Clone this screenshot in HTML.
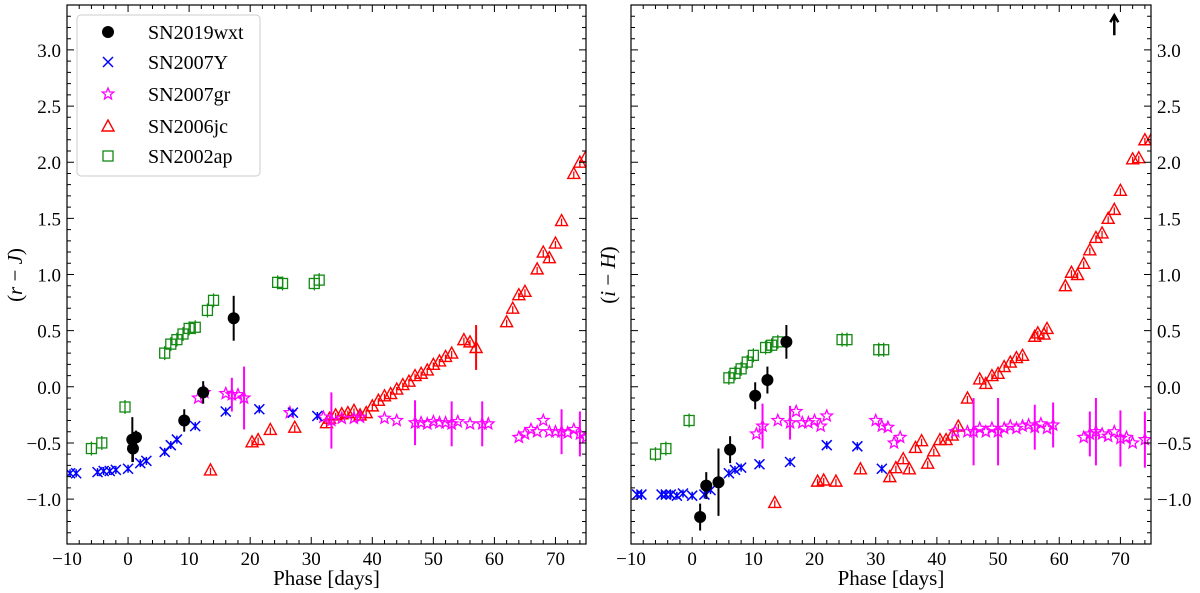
<!DOCTYPE html>
<html><head><meta charset="utf-8"><style>
html,body{margin:0;padding:0;background:#fff;}
svg{display:block;}
svg text{font-family:"Liberation Serif","Times New Roman",serif;}
</style></head><body>
<svg id="c" width="1200" height="593" viewBox="0 0 1200 593" xmlns="http://www.w3.org/2000/svg" font-family="Liberation Serif, serif"></svg>
<script>
// Left panel (r-J)
const L_wxt=[[0.7,-0.47,0.2],[0.8,-0.55,0.12],[1.3,-0.45,0.06],[9.2,-0.3,0.1],[12.3,-0.05,0.1],[17.3,0.61,0.2]];
const L_07Y=[[-9.5,-0.77],[-8.5,-0.77],[-5,-0.76],[-4,-0.75],[-3,-0.75],[-2,-0.74],[0,-0.73],[2,-0.68],[3,-0.66],[6,-0.58],[7,-0.52],[8,-0.47],[11,-0.35],[16,-0.22],[21.5,-0.2],[27,-0.23],[31,-0.26]];
const L_07gr=[[11.5,-0.1,0],[12.5,-0.05,0],[16,-0.06,0],[17,-0.07,0.15],[18,-0.07,0],[19,-0.1,0.28],[26.5,-0.23,0],[32,-0.27,0],[33.3,-0.3,0.25],[35,-0.28,0],[37,-0.28,0],[38,-0.27,0],[42,-0.28,0],[44,-0.3,0],[47,-0.32,0.2],[48,-0.32,0],[49,-0.33,0],[50,-0.31,0],[51,-0.32,0],[52,-0.32,0],[53,-0.33,0.2],[54,-0.31,0],[56,-0.33,0],[58,-0.33,0.2],[59,-0.33,0],[64,-0.45,0],[65,-0.42,0],[66,-0.38,0],[67,-0.4,0],[68,-0.3,0],[69,-0.4,0],[70,-0.4,0],[71,-0.4,0.2],[72,-0.41,0],[73,-0.38,0],[74,-0.42,0.2],[75,-0.45,0]];
const L_06jc=[[13.5,-0.74,0],[20.3,-0.49,0],[21.3,-0.47,0],[23.3,-0.38,0],[27.3,-0.36,0],[32.5,-0.32,0],[33,-0.28,0],[34,-0.25,0],[35,-0.24,0],[36,-0.23,0],[37,-0.21,0],[38,-0.25,0],[39,-0.23,0],[40,-0.17,0],[41,-0.12,0],[42,-0.08,0],[43,-0.06,0],[44,-0.02,0],[45,0.02,0],[46,0.05,0],[47,0.1,0],[48,0.12,0],[49,0.15,0],[50,0.2,0],[51,0.23,0],[52,0.27,0],[53,0.3,0],[55,0.42,0],[56,0.4,0],[57,0.35,0.2],[62,0.58,0],[63,0.7,0],[64,0.82,0],[65,0.85,0],[67,1.05,0],[68,1.2,0],[69,1.15,0],[70,1.28,0],[71,1.48,0],[73,1.9,0],[74,2.0,0],[75,2.05,0]];
const L_02ap=[[-6,-0.55],[-4.3,-0.5],[-0.5,-0.18],[6,0.3],[7,0.38],[8,0.42],[9,0.47],[10,0.52],[11,0.53],[13,0.68],[14,0.77],[24.5,0.93],[25.3,0.92],[30.5,0.92],[31.3,0.95]];
// Right panel (i-H)
const R_wxt=[[1.3,-1.16,0.12],[2.3,-0.88,0.12],[4.3,-0.85,0.3],[6.2,-0.56,0.12],[10.3,-0.08,0.12],[12.3,0.06,0.12],[15.4,0.4,0.15]];
const R_07Y=[[-9,-0.96],[-8.3,-0.96],[-5,-0.96],[-4.3,-0.96],[-3.5,-0.96],[-2.5,-0.97],[-1.5,-0.95],[0,-0.97],[2,-0.96],[3,-0.92],[6,-0.77],[7,-0.74],[8,-0.72],[11,-0.69],[16,-0.67],[22,-0.52],[27,-0.53],[31,-0.73]];
const R_07gr=[[10.5,-0.42,0],[11.5,-0.35,0.2],[14,-0.3,0],[16,-0.32,0.15],[17,-0.22,0],[18,-0.32,0],[19,-0.32,0],[20,-0.3,0],[21,-0.35,0],[22,-0.26,0],[30,-0.3,0],[31,-0.35,0],[32,-0.36,0],[33,-0.5,0],[34,-0.45,0],[43,-0.4,0],[45,-0.4,0],[46,-0.4,0.3],[47,-0.37,0],[48,-0.4,0],[49,-0.37,0],[50,-0.4,0.3],[51,-0.37,0],[52,-0.35,0],[53,-0.37,0],[54,-0.35,0],[55,-0.34,0],[56,-0.36,0.2],[57,-0.33,0],[58,-0.37,0],[59,-0.34,0.2],[64,-0.45,0],[65,-0.42,0.2],[66,-0.4,0.3],[67,-0.42,0],[68,-0.44,0],[69,-0.4,0],[70,-0.46,0.25],[71,-0.45,0],[72,-0.5,0],[74,-0.47,0.25]];
const R_06jc=[[13.5,-1.03,0],[20.5,-0.84,0],[21.5,-0.83,0],[23.5,-0.84,0],[27.5,-0.73,0],[32.3,-0.8,0],[33.3,-0.72,0],[34.5,-0.64,0],[35.5,-0.73,0],[36.5,-0.54,0],[37.5,-0.48,0],[38.5,-0.68,0],[39.5,-0.57,0],[40.5,-0.47,0],[41.5,-0.47,0],[42.5,-0.43,0],[43.5,-0.35,0],[45,-0.1,0],[47,0.07,0],[48,0.03,0],[49,0.1,0],[50,0.12,0],[51,0.18,0],[52,0.22,0],[53,0.26,0],[54,0.28,0],[56,0.45,0],[56.5,0.48,0],[57.5,0.47,0],[58,0.52,0],[61,0.9,0],[62,1.02,0],[63,1.0,0],[64,1.1,0],[65,1.22,0],[66,1.33,0],[67,1.37,0],[68,1.5,0],[69,1.58,0],[70,1.75,0],[72,2.03,0],[73,2.04,0],[74,2.2,0],[75,2.2,0]];
const R_02ap=[[-6,-0.6],[-4.3,-0.55],[-0.5,-0.3],[6,0.08],[7,0.12],[8,0.16],[9,0.22],[10,0.28],[12,0.35],[13,0.37],[14,0.4],[24.5,0.42],[25.3,0.42],[30.5,0.33],[31.3,0.33]];
const R_arrow=[69,3.22];
const xTicks=[-10,0,10,20,30,40,50,60,70];
const yTicks=[-1.0,-0.5,0.0,0.5,1.0,1.5,2.0,2.5,3.0];
const xDom=[-10,75], yDom=[-1.4,3.4];

const svg=document.getElementById('c');
const NS='http://www.w3.org/2000/svg';
const FF='Liberation Serif, Times New Roman, serif';
function mk(tag,attrs,parent){const e=document.createElementNS(NS,tag);for(const k in attrs)e.setAttribute(k,attrs[k]);if(tag==='text')e.setAttribute('font-family',FF);(parent||svg).appendChild(e);return e;}
function fmt(v){return (v<0?'\u2212':'')+Math.abs(v).toFixed(1);}

function panel(x0,x1,side,name,ylab,sets,arrow){
  const y0=5,y1=544;
  const sx=d=>x0+(d-xDom[0])/(xDom[1]-xDom[0])*(x1-x0);
  const sy=v=>y1-(v-yDom[0])/(yDom[1]-yDom[0])*(y1-y0);
  const g=mk('g',{});
  
  
  const clip=mk('clipPath',{id:'cl'+name},g);
  mk('rect',{x:x0,y:y0,width:x1-x0,height:y1-y0},clip);
  const pts=mk('g',{'clip-path':'url(#cl'+name+')'},g);
  function eb(x,y,e,col){ if(e>0) mk('line',{x1:x,x2:x,y1:sy(y-e),y2:sy(y+e),stroke:col,'stroke-width':2},pts); }
  sets.ap.forEach(p=>{const x=sx(p[0]),y=sy(p[1]);
    mk('line',{x1:x,x2:x,y1:y-7,y2:y+7,stroke:'#138a13','stroke-width':1.3},pts);
    const r=mk('rect',{x:x-5,y:y-5,width:10,height:10,fill:'none',stroke:'#138a13','stroke-width':1.3},pts);
    });
  sets.jc.forEach(p=>{const x=sx(p[0]),y=sy(p[1]);eb(x,p[1],p[2],'red');
    mk('line',{x1:x,x2:x,y1:y-2,y2:y+5,stroke:'red','stroke-width':1.3},pts);
    const t=mk('polygon',{points:`${x},${y-6} ${x-6},${y+5} ${x+6},${y+5}`,fill:'none',stroke:'red','stroke-width':1.4},pts);
    });
  sets.gr.forEach(p=>{const x=sx(p[0]),y=sy(p[1]);eb(x,p[1],p[2],'magenta');
    let s='';for(let i=0;i<10;i++){const a=-Math.PI/2+i*Math.PI/5,r=i%2?2.6:6;s+=(x+r*Math.cos(a)).toFixed(1)+','+(y+r*Math.sin(a)).toFixed(1)+' ';}
    const st=mk('polygon',{points:s,fill:'none',stroke:'magenta','stroke-width':1.3},pts);
    });
  sets.y.forEach(p=>{const x=sx(p[0]),y=sy(p[1]);
    const c=mk('path',{d:`M${x-5},${y-5}L${x+5},${y+5}M${x-5},${y+5}L${x+5},${y-5}M${x},${y-4}L${x},${y+4}`,stroke:'blue','stroke-width':1.5,fill:'none'},pts);
    });
  sets.wxt.forEach(p=>{const x=sx(p[0]),y=sy(p[1]);eb(x,p[1],p[2],'#000');
    const c=mk('circle',{cx:x,cy:y,r:6,fill:'#000'},pts);
    });
  if(arrow){const x=sx(arrow[0]),y=sy(arrow[1]);
    const a=mk('path',{d:`M${x},${y+10}L${x},${y-9}M${x-4},${y-3}L${x},${y-10}L${x+4},${y-3}`,stroke:'#000','stroke-width':2.5,fill:'none'},g);
    }
  const fr=mk('rect',{x:x0,y:y0,width:x1-x0,height:y1-y0,fill:'none',stroke:'#000','stroke-width':1.2},g);
  
  let d='';
  for(let v=-10;v<=75;v+=2){const x=sx(v),L=(v%10===0)?7:4;d+=`M${x},${y1}v${-L}M${x},${y0}v${L}`;}
  for(let k=-14;k<=34;k++){const v=k/10,y=sy(v),L=(k%5===0)?7:4;d+=`M${x0},${y}h${L}M${x1},${y}h${-L}`;}
  mk('path',{d:d,stroke:'#000','stroke-width':1},g);
  xTicks.forEach(v=>{const t=mk('text',{x:sx(v),y:y1+21,'font-size':19,'text-anchor':'middle'},g);t.textContent=fmt(v).replace('.0','');
    });
  yTicks.forEach(v=>{const t=mk('text',{x:side==='l'?x0-6:x1+6,y:sy(v)+7,'font-size':19,'text-anchor':side==='l'?'end':'start'},g);t.textContent=fmt(v);
    });
  const xl=mk('text',{x:(x0+x1)/2,y:585,'font-size':21,'text-anchor':'middle'},g);xl.textContent='Phase [days]';
  
  const lx=side==='l'?22:615,ly=275;
  const yl=mk('text',{x:lx,y:ly,'font-size':21,'text-anchor':'middle',transform:`rotate(-90 ${lx} ${ly})`},g);
  yl.innerHTML=ylab;
  
}
panel(67,586,'l','left-panel','(<tspan font-style="italic">r</tspan> \u2212 <tspan font-style="italic">J</tspan>)',{wxt:L_wxt,y:L_07Y,gr:L_07gr,jc:L_06jc,ap:L_02ap},null);
panel(631,1151,'r','right-panel','(<tspan font-style="italic">i</tspan> \u2212 <tspan font-style="italic">H</tspan>)',{wxt:R_wxt,y:R_07Y,gr:R_07gr,jc:R_06jc,ap:R_02ap},R_arrow);

const lg=mk('g',{});

mk('rect',{x:77,y:15,width:183,height:161,rx:4,fill:'#fff',stroke:'#ccc','stroke-width':1},lg);
const names=['SN2019wxt','SN2007Y','SN2007gr','SN2006jc','SN2002ap'];
const rows=[32,62,94,126,156];
names.forEach((n,i)=>{const y=rows[i],x=108;
  const e=mk('g',{},lg);
  if(i===0)mk('circle',{cx:x,cy:y,r:6,fill:'#000'},e);
  if(i===1)mk('path',{d:`M${x-5},${y-5}L${x+5},${y+5}M${x-5},${y+5}L${x+5},${y-5}`,stroke:'blue','stroke-width':1.5},e);
  if(i===2){let s='';for(let k=0;k<10;k++){const a=-Math.PI/2+k*Math.PI/5,r=k%2?2.6:6;s+=(x+r*Math.cos(a)).toFixed(1)+','+(y+r*Math.sin(a)).toFixed(1)+' ';}mk('polygon',{points:s,fill:'none',stroke:'magenta','stroke-width':1.3},e);}
  if(i===3)mk('polygon',{points:`${x},${y-6} ${x-6},${y+5} ${x+6},${y+5}`,fill:'none',stroke:'red','stroke-width':1.4},e);
  if(i===4)mk('rect',{x:x-5,y:y-5,width:10,height:10,fill:'none',stroke:'#138a13','stroke-width':1.3},e);
  const t=mk('text',{x:148,y:y+7,'font-size':20},e);t.textContent=n;
});
</script>
</body></html>
